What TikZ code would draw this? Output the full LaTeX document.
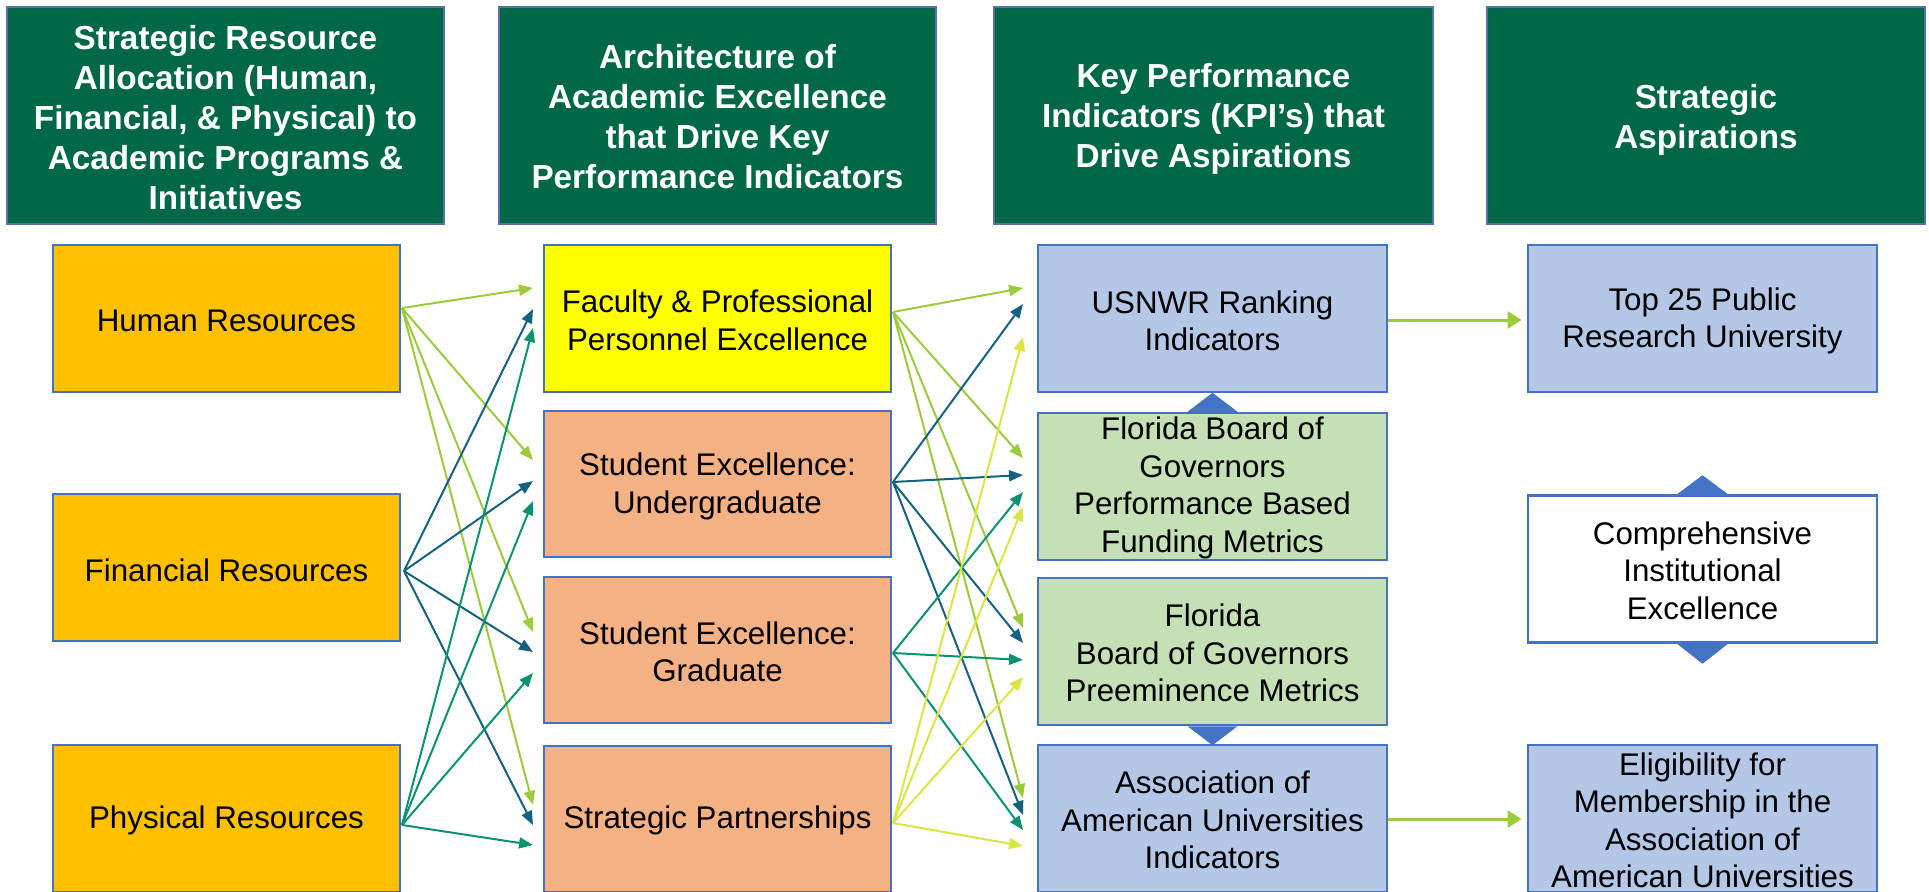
\documentclass[tikz,border=0pt]{standalone}
\usepackage{fontspec}
\setmainfont{Liberation Sans}
\usetikzlibrary{arrows.meta,calc}
\definecolor{hdrgreen}{RGB}{0,104,71}
\definecolor{hdrline}{RGB}{90,110,180}
\definecolor{boxline}{RGB}{68,114,196}
\definecolor{orangebox}{RGB}{255,192,0}
\definecolor{yellowbox}{RGB}{255,255,0}
\definecolor{salmonbox}{RGB}{244,177,131}
\definecolor{bluebox}{RGB}{180,199,231}
\definecolor{greenbox}{RGB}{197,224,180}
\definecolor{agreen}{RGB}{155,203,59}
\definecolor{ablue}{RGB}{20,97,128}
\definecolor{ateal}{RGB}{12,145,113}
\definecolor{ayellow}{RGB}{218,228,66}
\tikzset{
 hdr/.style={draw=hdrline, line width=1.5pt, fill=hdrgreen, minimum height=217pt, inner sep=0pt},
 hdrtext/.style={text=white, inner sep=0pt, align=center, font=\bfseries\fontsize{33.3}{40}\selectfont},
 box/.style={draw=boxline, line width=2.5pt, minimum height=147pt, inner sep=0pt},
 boxtext/.style={inner sep=0pt, align=center, font=\fontsize{31.3}{37.5}\selectfont},
 col1/.style={box, minimum width=347pt, fill=orangebox},
 col2/.style={box, minimum width=347pt},
 col3/.style={box, minimum width=349pt},
 col4/.style={box, minimum width=349pt},
 con/.style={line width=2pt, -{Triangle[length=14pt,width=11pt]}},
 bigcon/.style={line width=3pt, draw=agreen, -{Triangle[length=14pt,width=17pt]}},
 tri/.style={fill=boxline}
}
\begin{document}
\begin{tikzpicture}[x=1pt,y=-1pt]
\useasboundingbox (0,0) rectangle (1929,891);
\clip (0,0) rectangle (1929,891);
% headers
\node[hdr, minimum width=437pt] (h1) at (225.5,115.5) {};
\node[hdr, minimum width=437pt] (h2) at (717.5,115.5) {};
\node[hdr, minimum width=439pt] (h3) at (1213.5,115.5) {};
\node[hdr, minimum width=438pt] (h4) at (1706,115.5) {};
\node[hdrtext] (h1L) at ([yshift=-2.5pt]h1.center) {Strategic Resource\\Allocation (Human,\\Financial, \& Physical) to\\Academic Programs \&\\Initiatives};
\node[hdrtext] (h2L) at ([yshift=-1.5pt]h2.center) {Architecture of\\Academic Excellence\\that Drive Key\\Performance Indicators};
\node[hdrtext] (h3L) at ([yshift=-3.5pt]h3.center) {Key Performance\\Indicators (KPI’s) that\\Drive Aspirations};
\node[hdrtext] (h4L) at ([yshift=-4pt]h4.center) {Strategic\\Aspirations};
% column 1
\node[col1] (hr) at (226.5,318.5) {};
\node[col1] (fi) at (226.5,567.5) {};
\node[col1] (ph) at (226.5,818.5) {};
% column 2
\node[col2, fill=yellowbox] (fac) at (717.5,318.5) {};
\node[col2, fill=salmonbox, minimum height=146pt] (ug) at (717.5,484) {};
\node[col2, fill=salmonbox, minimum height=146pt] (gr) at (717.5,650) {};
\node[col2, fill=salmonbox, minimum height=146pt] (sp) at (717.5,819) {};
% column 3
\node[col3, fill=bluebox] (usn) at (1212.5,318.5) {};
\node[col3, fill=greenbox] (pbf) at (1212.5,486.5) {};
\node[col3, fill=greenbox] (pre) at (1212.5,651.5) {};
\node[col3, fill=bluebox] (aau) at (1212.5,818.5) {};
% column 4
\node[col4, fill=bluebox] (top) at (1702.5,318.5) {};
\node[col4, fill=white] (cie) at (1702.5,569) {};
\node[col4, fill=bluebox] (eli) at (1702.5,818.5) {};
% box texts
\node[boxtext] (hrL) at ([yshift=-2.5pt]hr.center) {Human Resources};
\node[boxtext] (fiL) at ([yshift=-2.5pt]fi.center) {Financial Resources};
\node[boxtext] (phL) at ([yshift=-2pt]ph.center) {Physical Resources};
\node[boxtext] (facL) at ([yshift=-2pt]fac.center) {Faculty \& Professional\\Personnel Excellence};
\node[boxtext] (ugL) at ([yshift=-2.5pt]ug.center) {Student Excellence:\\Undergraduate};
\node[boxtext] (grL) at ([yshift=-2pt]gr.center) {Student Excellence:\\Graduate};
\node[boxtext] (spL) at ([yshift=-1.5pt]sp.center) {Strategic Partnerships};
\node[boxtext] (usnL) at ([yshift=-2.5pt]usn.center) {USNWR Ranking\\Indicators};
\node[boxtext] (pbfL) at ([yshift=-1.5pt]pbf.center) {Florida Board of\\Governors\\Performance Based\\Funding Metrics};
\node[boxtext] (preL) at ([yshift=-1.5pt]pre.center) {Florida\\Board of Governors\\Preeminence Metrics};
\node[boxtext] (aauL) at ([yshift=-1.5pt]aau.center) {Association of\\American Universities\\Indicators};
\node[boxtext] (topL) at ([yshift=-2.5pt]top.center) {Top 25 Public\\Research University};
\node[boxtext] (cieL) at ([yshift=-1.5pt]cie.center) {Comprehensive\\Institutional\\Excellence};
\node[boxtext] (eliL) at ([yshift=-2pt]eli.center) {Eligibility for\\Membership in the\\Association of\\American Universities};
% triangles
\fill[tri] ([xshift=-25pt]pbf.north) -- ([yshift=19pt]pbf.north) -- ([xshift=25pt]pbf.north) -- cycle;
\fill[tri] ([xshift=-25pt]pre.south) -- ([yshift=-19pt]pre.south) -- ([xshift=25pt]pre.south) -- cycle;
\fill[tri] ([xshift=-25.5pt]cie.north) -- ([yshift=19pt]cie.north) -- ([xshift=25.5pt]cie.north) -- cycle;
\fill[tri] ([xshift=-25.5pt]cie.south) -- ([yshift=-20pt]cie.south) -- ([xshift=25.5pt]cie.south) -- cycle;
% connector end points, column 1 to 2
\coordinate (hrS) at (402,308);
\coordinate (fiS) at (404,571);
\coordinate (phS) at (402,825);
\foreach \n/\yy in {facA/288,facB/309,facC/328,ugA/460,ugB/481,ugC/501,grA/632,grB/652,grC/673,spA/805,spB/825,spC/845}
  {\coordinate (\n) at (533,\yy);}
\draw[con,agreen] (hrS) -- (facA);
\draw[con,agreen] (hrS) -- (ugA);
\draw[con,agreen] (hrS) -- (grA);
\draw[con,agreen] (hrS) -- (spA);
\draw[con,ablue] (fiS) -- (facB);
\draw[con,ablue] (fiS) -- (ugB);
\draw[con,ablue] (fiS) -- (grB);
\draw[con,ablue] (fiS) -- (spB);
\draw[con,ateal] (phS) -- (facC);
\draw[con,ateal] (phS) -- (ugC);
\draw[con,ateal] (phS) -- (grC);
\draw[con,ateal] (phS) -- (spC);
% column 2 to 3
\coordinate (facS) at (893,312);
\coordinate (ugS) at (893,482);
\coordinate (grS) at (893,653);
\coordinate (spS) at (893,823);
\foreach \n/\yy in {usnA/288,usnB/304,usnD/337,pbfA/458,pbfB/475,pbfC/492,pbfD/507,preA/628,preB/643,preC/660,preD/677,aauA/798,aauB/815,aauC/830,aauD/846}
  {\coordinate (\n) at (1023,\yy);}
\draw[con,agreen] (facS) -- (usnA);
\draw[con,agreen] (facS) -- (pbfA);
\draw[con,agreen] (facS) -- (preA);
\draw[con,agreen] (facS) -- (aauA);
\draw[con,ablue] (ugS) -- (usnB);
\draw[con,ablue] (ugS) -- (pbfB);
\draw[con,ablue] (ugS) -- (preB);
\draw[con,ablue] (ugS) -- (aauB);
\draw[con,ateal] (grS) -- (pbfC);
\draw[con,ateal] (grS) -- (preC);
\draw[con,ateal] (grS) -- (aauC);
\draw[con,ayellow] (spS) -- (usnD);
\draw[con,ayellow] (spS) -- (pbfD);
\draw[con,ayellow] (spS) -- (preD);
\draw[con,ayellow] (spS) -- (aauD);
% column 3 to 4
\coordinate (usnS) at (1388,320);
\coordinate (topT) at (1521.5,320);
\coordinate (aauS) at (1388,819);
\coordinate (eliT) at (1521.5,819);
\draw[bigcon] (usnS) -- (topT);
\draw[bigcon] (aauS) -- (eliT);
\end{tikzpicture}
\end{document}
